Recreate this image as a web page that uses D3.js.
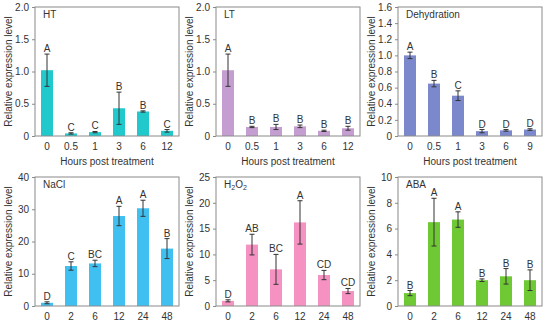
<!DOCTYPE html>
<html>
<head>
<meta charset="utf-8">
<script src="https://cdn.jsdelivr.net/npm/d3@7"></script>
<style>
  body { margin: 0; background: #fff; }
  svg text { font-family: "Liberation Sans", Arial, sans-serif; fill: #333; }
</style>
</head>
<body>
<svg id="chart" width="550" height="324"></svg>
<script>
// time points (hours post treatment)
const hoursShort = ['0', '0.5', '1', '3', '6', '12']
const hoursDehy = ['0', '0.5', '1', '3', '6', '9']
const hoursLong = ['0', '2', '6', '12', '24', '48']

// HT
const htMean = [1.02, 0.04, 0.06, 0.43, 0.38, 0.08]
const htErr = [0.25, 0.01, 0.01, 0.25, 0.01, 0.02]
const htLetters = ['A', 'C', 'C', 'B', 'B', 'C']
// LT
const ltMean = [1.02, 0.14, 0.14, 0.15, 0.08, 0.12]
const ltErr = [0.25, 0.01, 0.04, 0.02, 0.01, 0.03]
const ltLetters = ['A', 'B', 'B', 'B', 'B', 'B']
// Dehydration
const dehyMean = [1.0, 0.65, 0.50, 0.06, 0.07, 0.08]
const dehyErr = [0.04, 0.04, 0.06, 0.02, 0.01, 0.01]
const dehyLetters = ['A', 'B', 'C', 'D', 'D', 'D']
// NaCl
const naclMean = [1.0, 12.4, 13.2, 27.9, 30.3, 17.8]
const naclErr = [0.3, 1.3, 1.0, 3.0, 2.5, 3.1]
const naclLetters = ['D', 'C', 'BC', 'A', 'A', 'B']
// H2O2
const h2o2Mean = [1.0, 11.9, 7.1, 16.2, 6.0, 2.9]
const h2o2Err = [0.2, 2.0, 2.9, 4.2, 0.9, 0.5]
const h2o2Letters = ['D', 'AB', 'BC', 'A', 'CD', 'CD']
// ABA
const abaMean = [1.0, 6.5, 6.7, 2.0, 2.3, 2.0]
const abaErr = [0.2, 1.85, 0.6, 0.1, 0.6, 0.8]
const abaLetters = ['B', 'A', 'A', 'B', 'B', 'B']

const panels = [
  { name: 'HT', hours: hoursShort, mean: htMean, err: htErr, letters: htLetters,
    max: 2, ticks: [0, 0.5, 1, 1.5, 2], fmt: d => d === 0 ? '0' : d3.format('.1f')(d),
    color: '#22c9cc', left: 35, top: 7, xTitle: true },
  { name: 'LT', hours: hoursShort, mean: ltMean, err: ltErr, letters: ltLetters,
    max: 2, ticks: [0, 0.5, 1, 1.5, 2], fmt: d => d === 0 ? '0' : d3.format('.1f')(d),
    color: '#c59ed1', left: 216, top: 7, xTitle: true },
  { name: 'Dehydration', hours: hoursDehy, mean: dehyMean, err: dehyErr, letters: dehyLetters,
    max: 1.6, ticks: [0, 0.2, 0.4, 0.6, 0.8, 1, 1.2, 1.4, 1.6], fmt: d => d === 0 ? '0' : d3.format('.1f')(d),
    color: '#7b88cc', left: 398, top: 7, xTitle: true },
  { name: 'NaCl', hours: hoursLong, mean: naclMean, err: naclErr, letters: naclLetters,
    max: 40, ticks: [0, 10, 20, 30, 40], fmt: d3.format('d'),
    color: '#40c0f0', left: 35, top: 177, xTitle: false },
  { name: 'H2O2', hours: hoursLong, mean: h2o2Mean, err: h2o2Err, letters: h2o2Letters,
    max: 25, ticks: [0, 5, 10, 15, 20, 25], fmt: d3.format('d'),
    color: '#f592c2', left: 216, top: 177, xTitle: false },
  { name: 'ABA', hours: hoursLong, mean: abaMean, err: abaErr, letters: abaLetters,
    max: 10, ticks: [0, 2, 4, 6, 8, 10], fmt: d3.format('d'),
    color: '#6ec935', left: 398, top: 177, xTitle: false },
]

const pw = 144, ph = 129
const svg = d3.select('#chart')

panels.forEach(p => {
  const g = svg.append('g').attr('transform', `translate(${p.left},${p.top})`)
  const data = p.hours.map((h, i) => ({ h, m: p.mean[i], e: p.err[i], l: p.letters[i] }))

  const x = d3.scaleBand().domain(p.hours).range([0, pw]).paddingInner(0.5).paddingOuter(0.25)
  const y = d3.scaleLinear().domain([0, p.max]).range([ph, 0])

  // bars
  g.selectAll('rect.bar').data(data).join('rect')
    .attr('class', 'bar')
    .attr('x', d => x(d.h))
    .attr('y', d => y(d.m))
    .attr('width', x.bandwidth())
    .attr('height', d => y(0) - y(d.m))
    .attr('fill', p.color)

  // error bars
  const eb = g.append('g').attr('stroke', '#333').attr('stroke-width', 1)
  data.forEach(d => {
    const cx = x(d.h) + x.bandwidth() / 2
    eb.append('line').attr('x1', cx).attr('x2', cx).attr('y1', y(d.m + d.e)).attr('y2', y(Math.max(0, d.m - d.e)))
    eb.append('line').attr('x1', cx - 2.5).attr('x2', cx + 2.5).attr('y1', y(d.m + d.e)).attr('y2', y(d.m + d.e))
    eb.append('line').attr('x1', cx - 2.5).attr('x2', cx + 2.5).attr('y1', y(Math.max(0, d.m - d.e))).attr('y2', y(Math.max(0, d.m - d.e)))
  })

  // significance letters
  g.selectAll('text.letter').data(data).join('text')
    .attr('class', 'letter')
    .attr('x', d => x(d.h) + x.bandwidth() / 2)
    .attr('y', d => y(d.m + d.e) - 2)
    .attr('text-anchor', 'middle')
    .attr('font-size', 10)
    .text(d => d.l)

  // frame
  g.append('rect').attr('width', pw).attr('height', ph)
    .attr('fill', 'none').attr('stroke', '#8a8a8a').attr('stroke-width', 1)

  // y axis
  const ya = g.append('g')
    .call(d3.axisLeft(y).tickValues(p.ticks).tickFormat(p.fmt).tickSize(3).tickPadding(3))
  ya.select('.domain').remove()
  ya.selectAll('line').attr('stroke', '#8a8a8a')
  ya.selectAll('text').attr('font-size', 10).attr('font-family', null).attr('fill', '#333')

  // x axis
  const xa = g.append('g').attr('transform', `translate(0,${ph})`)
    .call(d3.axisBottom(x).tickSize(0).tickPadding(7))
  xa.select('.domain').remove()
  xa.selectAll('text').attr('font-size', 10).attr('font-family', null).attr('fill', '#333')

  // panel label
  const lab = g.append('text').attr('x', 8).attr('y', 11).attr('font-size', 10)
  if (p.name === 'H2O2') {
    lab.append('tspan').text('H')
    lab.append('tspan').attr('font-size', 7).attr('dy', 2).text('2')
    lab.append('tspan').attr('dy', -2).text('O')
    lab.append('tspan').attr('font-size', 7).attr('dy', 2).text('2')
  } else {
    lab.text(p.name)
  }

  // y title
  g.append('text')
    .attr('transform', `translate(-23,${ph / 2}) rotate(-90)`)
    .attr('text-anchor', 'middle')
    .attr('font-size', 10)
    .text('Relative expression level')

  // x title
  if (p.xTitle) {
    g.append('text')
      .attr('x', pw / 2).attr('y', ph + 29)
      .attr('text-anchor', 'middle')
      .attr('font-size', 10)
      .text('Hours post treatment')
  }
})
</script>
</body>
</html>
